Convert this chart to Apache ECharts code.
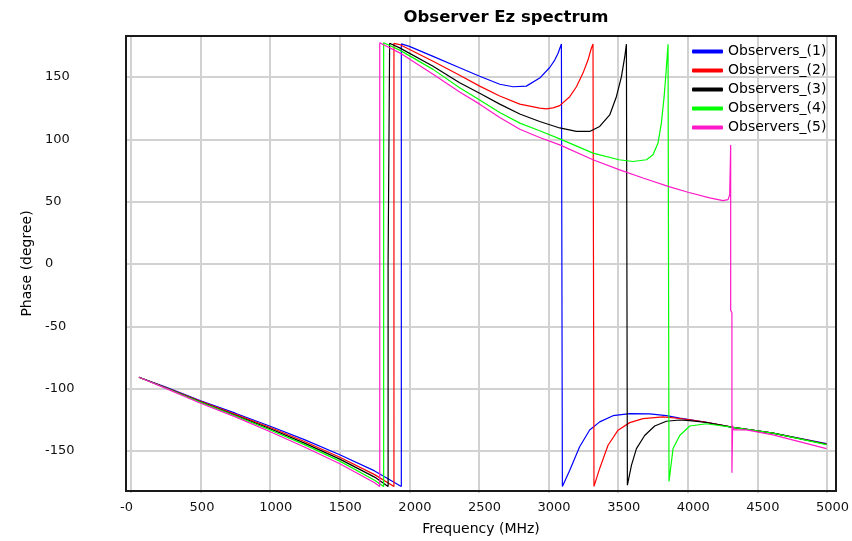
<!DOCTYPE html>
<html>
<head>
<meta charset="utf-8">
<title>Observer Ez spectrum</title>
<script src="https://cdn.jsdelivr.net/npm/echarts@6/dist/echarts.min.js"></script>
<style>
  html, body { margin: 0; padding: 0; background: #ffffff; }
  #chart { width: 852px; height: 541px; }
</style>
</head>
<body>
<div id="chart"></div>
<script>
// Legend names and line colours, one per observer.
const seriesNames = ['Observers_(1)', 'Observers_(2)', 'Observers_(3)', 'Observers_(4)', 'Observers_(5)'];
const seriesColors = ['#0000ff', '#ff0000', '#000000', '#00ff00', '#ff19c8'];

// Axis ticks and their printed labels.
const xTickValues = [0, 500, 1000, 1500, 2000, 2500, 3000, 3500, 4000, 4500, 5000];
const xTickLabels = ['-0', '500', '1000', '1500', '2000', '2500', '3000', '3500', '4000', '4500', '5000'];
const yTickValues = [-150, -100, -50, 0, 50, 100, 150];
const yTickLabels = ['-150', '-100', '-50', '0', '50', '100', '150'];

// Phase (degree) against frequency (MHz) for each observer.
const observer1 = [
  [57, -92], [250, -100], [500, -111], [750, -121], [1000, -131.5], [1250, -142.5], [1500, -154.5], [1750, -167.5], [1942, -180],
  [1942, 176.5], [2000, 174.5], [2170, 166.5], [2361, 157.3], [2505, 150.5], [2649, 144], [2745, 142], [2840, 142.5],
  [2936, 149], [3008, 157.5], [3044, 163.5], [3068, 169], [3092, 176.5],
  [3099, -180], [3152, -167], [3223, -148], [3295, -134.5], [3367, -128], [3463, -123], [3583, -121.3], [3726, -121.5],
  [3846, -123], [3942, -125], [4134, -128.3], [4325, -132.5], [4612, -137], [4996, -145.5]
];
const observer2 = [
  [57, -92], [250, -100.3], [500, -111.5], [750, -122], [1000, -132.5], [1250, -144], [1500, -156.5], [1750, -170.5], [1889, -180],
  [1889, 177], [1930, 176], [2170, 162.5], [2361, 151.2], [2505, 142.5], [2649, 134.5], [2793, 128], [2936, 124.8],
  [2984, 124.2], [3032, 125], [3080, 126.8], [3152, 134], [3200, 142], [3247, 153], [3283, 163.5], [3307, 173], [3319, 176.5],
  [3326, -180], [3367, -165.5], [3427, -146.8], [3499, -134.7], [3583, -128.6], [3678, -125.4], [3822, -124], [3942, -125.3],
  [4014, -126.3], [4134, -128.3], [4325, -132.5], [4612, -137], [4996, -145.8]
];
const observer3 = [
  [57, -92], [250, -100.5], [500, -112], [750, -122.7], [1000, -133.5], [1250, -145.3], [1500, -158], [1750, -172.5], [1847, -180],
  [1847, 0], [1858, 0], [1858, 177], [1930, 173.3], [2170, 158.5], [2361, 145.2], [2505, 136.7], [2649, 128], [2793, 120],
  [2936, 114], [3080, 108.8], [3200, 106], [3295, 106], [3367, 110], [3439, 119.3], [3487, 134], [3523, 150], [3547, 166], [3559, 176.3],
  [3566, -179], [3595, -163], [3631, -149.5], [3690, -139], [3762, -131.3], [3846, -127.5], [3942, -126.5], [4014, -127],
  [4134, -128.5], [4325, -132.5], [4612, -137], [4996, -146]
];
const observer4 = [
  [57, -92], [250, -100.7], [500, -112.2], [750, -123.2], [1000, -134.5], [1250, -146.5], [1500, -159.6], [1750, -175], [1815, -180],
  [1815, 177.5], [1930, 171.5], [2170, 156], [2361, 141.2], [2505, 131.4], [2649, 121.2], [2793, 112.7], [2936, 106.5], [3080, 100],
  [3319, 88.5], [3506, 83.2], [3606, 81.8], [3703, 83.2], [3750, 87.2], [3786, 96.6], [3810, 112.7], [3830, 134], [3845, 155.5], [3858, 176.3],
  [3865, -176], [3894, -149.5], [3942, -139], [4014, -131.3], [4134, -129.5], [4325, -132.5], [4612, -137], [4996, -146.3]
];
const observer5 = [
  [57, -92], [250, -101], [500, -113], [750, -124], [1000, -136], [1250, -148.5], [1500, -161.8], [1750, -177], [1787, -180],
  [1787, 177.5], [1930, 169.3], [2170, 152], [2361, 137.8], [2505, 128], [2649, 117.2], [2793, 107.8], [2936, 101.1], [3080, 95.2],
  [3319, 83.2], [3506, 75.2], [3678, 68.5], [3870, 61.3], [4002, 57], [4157, 52.5], [4253, 50.3], [4289, 51.1], [4301, 55], [4308, 95],
  [4308, -38], [4317, -40], [4317, -169], [4322, -131], [4330, -134.5], [4420, -134.5], [4612, -138.5], [4996, -149.5]
];
const observerData = [observer1, observer2, observer3, observer4, observer5];

// Layout: the framed plot area, and where the first/last ticks sit inside it.
const frame = { left: 126, top: 36, width: 710, height: 457 };
const xTickPx = { left: 131, width: 696 };
const yTickPx = { top: 77, height: 374 };
const labelShift = 11;
const uiFont = '"DejaVu Sans", Verdana, sans-serif';

// Extend the tick ranges out to the frame edges so the data grid shares their scale.
const xFirst = xTickValues[0], xLast = xTickValues[xTickValues.length - 1];
const xUnitsPerPx = (xLast - xFirst) / xTickPx.width;
const xMin = xFirst - (xTickPx.left - frame.left) * xUnitsPerPx;
const xMax = xLast + ((frame.left + frame.width) - (xTickPx.left + xTickPx.width)) * xUnitsPerPx;
const yFirst = yTickValues[0], yLast = yTickValues[yTickValues.length - 1];
const yUnitsPerPx = (yLast - yFirst) / yTickPx.height;
const yMax = yLast + (yTickPx.top - frame.top) * yUnitsPerPx;
const yMin = yFirst - ((frame.top + frame.height) - (yTickPx.top + yTickPx.height)) * yUnitsPerPx;
const xStep = xTickValues[1] - xTickValues[0];
const yStep = yTickValues[1] - yTickValues[0];

const gridLine = { show: true, lineStyle: { color: '#d2d2d2', width: 2 } };
const off = { show: false };
const hiddenAxis = (gridIndex) => ({ gridIndex, type: 'value', show: false, min: 0, max: 1 });

const chart = echarts.init(document.getElementById('chart'), null, { renderer: 'canvas' });
chart.setOption({
  animation: false,
  backgroundColor: '#ffffff',
  title: {
    text: 'Observer Ez spectrum',
    left: 506,
    top: 9,
    padding: 0,
    textAlign: 'center',
    textStyle: { fontFamily: uiFont, fontSize: 16.5, fontWeight: 'bold', color: '#000000' }
  },
  legend: {
    orient: 'vertical',
    left: 692,
    top: 42,
    padding: 0,
    itemGap: 0,
    itemWidth: 31,
    itemHeight: 4,
    icon: 'roundRect',
    data: seriesNames,
    textStyle: { fontFamily: uiFont, fontSize: 14, color: '#000000', lineHeight: 19 }
  },
  grid: [
    // data + frame
    { left: frame.left, top: frame.top, width: frame.width, height: frame.height,
      show: true, borderColor: '#1a1a1a', borderWidth: 2, z: 4 },
    // horizontal grid lines and phase labels
    { left: frame.left, top: yTickPx.top, width: frame.width, height: yTickPx.height },
    // vertical grid lines
    { left: xTickPx.left, top: frame.top, width: xTickPx.width, height: frame.height },
    // frequency labels
    { left: xTickPx.left - labelShift, top: frame.top, width: xTickPx.width, height: frame.height }
  ],
  xAxis: [
    { gridIndex: 0, type: 'value', min: xMin, max: xMax,
      axisLine: off, axisTick: off, axisLabel: off, splitLine: off,
      name: 'Frequency (MHz)', nameLocation: 'middle', nameGap: 31,
      nameTextStyle: { fontFamily: uiFont, fontSize: 14, color: '#000000' } },
    hiddenAxis(1),
    { gridIndex: 2, type: 'value', min: xFirst, max: xLast, interval: xStep,
      axisLine: off, axisTick: off, axisLabel: off, splitLine: gridLine },
    { gridIndex: 3, type: 'value', min: xFirst, max: xLast, interval: xStep,
      axisLine: off, axisTick: off, splitLine: off,
      axisLabel: { show: true, align: 'left', margin: 8, fontFamily: uiFont, fontSize: 13, color: '#111111',
        formatter: (v) => { const i = xTickValues.indexOf(v); return i >= 0 ? xTickLabels[i] : ''; } } }
  ],
  yAxis: [
    { gridIndex: 0, type: 'value', min: yMin, max: yMax,
      axisLine: off, axisTick: off, axisLabel: off, splitLine: off,
      name: 'Phase (degree)', nameLocation: 'middle', nameGap: 92, nameRotate: 90,
      nameTextStyle: { fontFamily: uiFont, fontSize: 14, color: '#000000' } },
    { gridIndex: 1, type: 'value', min: yFirst, max: yLast, interval: yStep,
      axisLine: off, axisTick: off, splitLine: gridLine,
      axisLabel: { show: true, align: 'left', margin: frame.left - 45, fontFamily: uiFont, fontSize: 13, color: '#111111',
        formatter: (v) => { const i = yTickValues.indexOf(v); return i >= 0 ? yTickLabels[i] : ''; } } },
    hiddenAxis(2),
    hiddenAxis(3)
  ],
  series: observerData.map((data, i) => ({
    name: seriesNames[i],
    type: 'line',
    xAxisIndex: 0,
    yAxisIndex: 0,
    data: data,
    symbol: 'none',
    showSymbol: false,
    color: seriesColors[i],
    lineStyle: { color: seriesColors[i], width: 1.2 },
    z: 2 + i * 0.01
  }))
});
</script>
</body>
</html>
